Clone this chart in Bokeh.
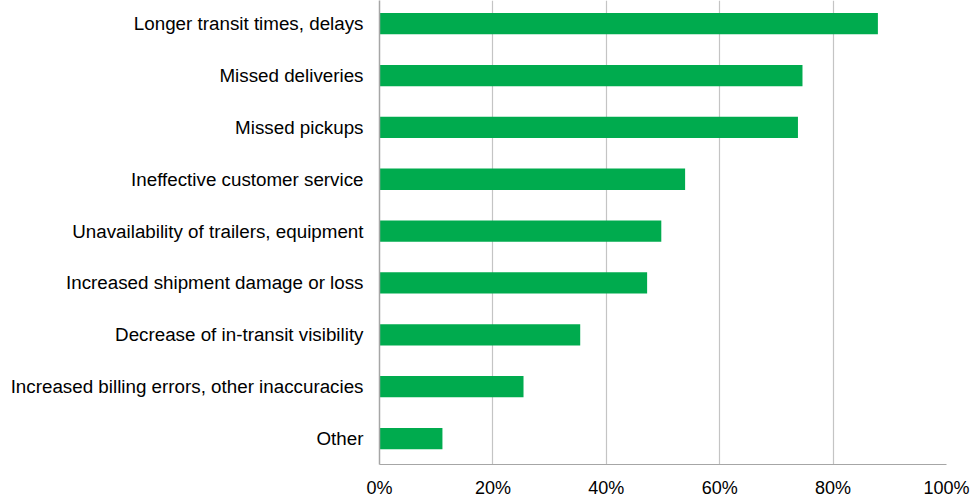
from bokeh.plotting import figure
from bokeh.models import Range1d, FixedTicker, NumeralTickFormatter, ColumnDataSource
from bokeh.embed import file_html
from bokeh.resources import INLINE

categories = [
    "Longer transit times, delays",
    "Missed deliveries",
    "Missed pickups",
    "Ineffective customer service",
    "Unavailability of trailers, equipment",
    "Increased shipment damage or loss",
    "Decrease of in-transit visibility",
    "Increased billing errors, other inaccuracies",
    "Other",
]
shares = [0.879, 0.746, 0.738, 0.539, 0.497, 0.472, 0.354, 0.254, 0.111]
x_ticks = [0, 0.2, 0.4, 0.6, 0.8, 1.0]

n = len(categories)
ypos = [n - 1 - i for i in range(n)]
src = ColumnDataSource(dict(y=ypos, right=shares, cat=categories))

p = figure(width=974, height=500, output_backend="svg", toolbar_location=None,
           x_range=Range1d(0, 1), y_range=Range1d(-0.5, -0.5 + 467 / 52.2),
           min_border_left=379, min_border_right=28, min_border_top=0,
           min_border_bottom=33)
p.outline_line_color = None
p.background_fill_color = "white"
p.border_fill_color = "white"

p.hbar(y="y", left=0, right="right", height=0.41, source=src,
       fill_color="#00AB4E", line_color=None)

font = "Liberation Sans"
p.xaxis.ticker = FixedTicker(ticks=x_ticks)
p.xaxis.formatter = NumeralTickFormatter(format="0%")
p.xaxis.major_tick_out = 0
p.xaxis.major_tick_in = 0
p.xaxis.minor_tick_line_color = None
p.xaxis.axis_line_color = "#A6A6A6"
p.xaxis.major_label_standoff = 13
p.xaxis.major_label_text_font = font
p.xaxis.major_label_text_font_size = "18px"
p.xaxis.major_label_text_color = "#000000"

p.yaxis.ticker = FixedTicker(ticks=ypos)
p.yaxis.major_label_overrides = {y: c for y, c in zip(ypos, categories)}
p.yaxis.major_tick_out = 0
p.yaxis.major_tick_in = 0
p.yaxis.minor_tick_line_color = None
p.yaxis.axis_line_color = "#A6A6A6"
p.yaxis.axis_line_width = 1.5
p.yaxis.major_label_standoff = 16
p.yaxis.major_label_text_font = font
p.yaxis.major_label_text_font_size = "18.8px"
p.yaxis.major_label_text_color = "#000000"

p.xgrid.grid_line_color = "#C4C4C4"
p.xgrid.grid_line_width = 1.2
p.ygrid.grid_line_color = None

open("out.html", "w").write(file_html(p, INLINE))
